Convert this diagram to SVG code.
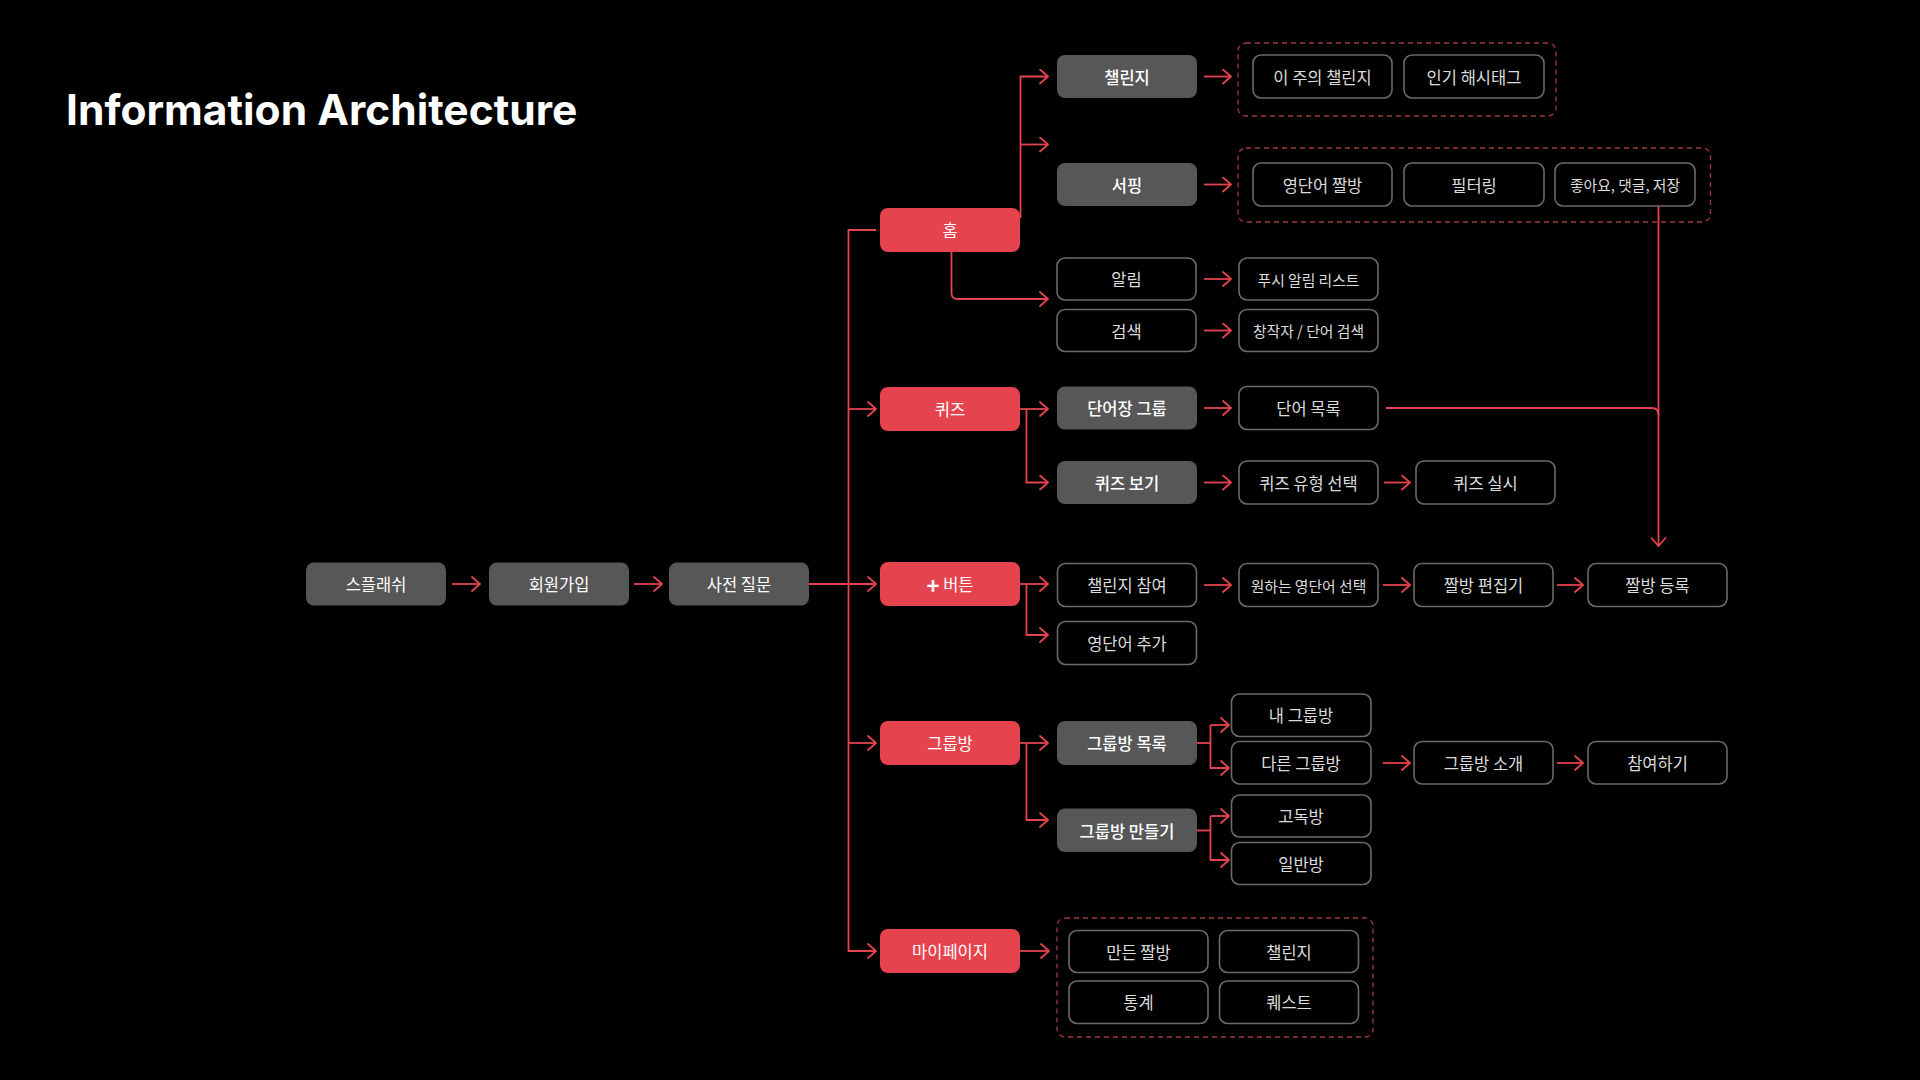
<svg xmlns="http://www.w3.org/2000/svg" width="1920" height="1080" viewBox="0 0 1920 1080">
<defs>
<marker id="ah" viewBox="0 0 10 16" refX="9" refY="8" markerWidth="10" markerHeight="16" markerUnits="userSpaceOnUse" orient="auto">
<path d="M1,1 L9,8 L1,15" fill="none" stroke="#E5434D" stroke-width="1.8" stroke-linecap="round" stroke-linejoin="round"/>
</marker>
</defs>
<style>
.bg{fill:#000}
.c{fill:none;stroke:#E5434D;stroke-width:1.8}
.a{marker-end:url(#ah)}
.red{fill:#E5434D}
.gray{fill:#575757}
.out{fill:#000;stroke:#6a6a6a;stroke-width:1.6}
.dash{fill:none;stroke:#A33A43;stroke-width:1.3;stroke-dasharray:5 4}
.t{font-family:"Noto Sans CJK KR","Noto Sans",sans-serif;font-size:16.5px;text-anchor:middle;dominant-baseline:central}
.w{fill:#ffffff;font-weight:500}
.r{fill:#ffffff;font-weight:400}
.g{fill:#dcdcdc;font-weight:400}
.s{font-size:14.8px}
.plus{font-size:22px;font-weight:700}
.title{font-family:Inter,"Liberation Sans",sans-serif;font-weight:700;font-size:42.5px;fill:#fff}
</style>
<rect class="bg" x="0" y="0" width="1920" height="1080"/>
<text class="title" x="66" y="125">Information Architecture</text>

<g id="connectors">
<path class="c a" d="M452,584 H480"/>
<path class="c a" d="M634,584 H662"/>
<path class="c a" d="M809,584 H876"/>
<path class="c a" d="M876,230 H848.5 V951 H876"/>
<path class="c a" d="M848.5,409 H876"/>
<path class="c a" d="M848.5,743 H876"/>
<path class="c a" d="M1020.5,218 V76.5 H1048"/>
<path class="c a" d="M1020.5,144.5 H1048"/>
<path class="c a" d="M951.5,252 V293 Q951.5,299 957.5,299 H1048"/>
<path class="c a" d="M1020,409 H1048"/>
<path class="c a" d="M1026.5,409 V482.5 H1048"/>
<path class="c a" d="M1020,584 H1048"/>
<path class="c a" d="M1026.5,584 V635 H1048"/>
<path class="c a" d="M1020,743 H1048"/>
<path class="c a" d="M1026.5,743 V820 H1048"/>
<path class="c a" d="M1020,951 H1049"/>
<path class="c a" d="M1204,76.5 H1231"/>
<path class="c a" d="M1204,184.5 H1231"/>
<path class="c a" d="M1204,279 H1231"/>
<path class="c a" d="M1204,330.5 H1231"/>
<path class="c a" d="M1204,408 H1231"/>
<path class="c a" d="M1204,482.5 H1231"/>
<path class="c a" d="M1204,585 H1231"/>
<path class="c a" d="M1384,482.5 H1410"/>
<path class="c a" d="M1383,585 H1410"/>
<path class="c a" d="M1557,585 H1583"/>
<path class="c a" d="M1658.5,206 V546"/>
<path class="c" d="M1386,408 H1652 Q1658.5,408 1658.5,415"/>
<path class="c" d="M1197,743 H1210.5"/>
<path class="c a" d="M1210.5,725 V768 H1229"/>
<path class="c a" d="M1210.5,725 H1229"/>
<path class="c" d="M1197,830.5 H1210.5"/>
<path class="c a" d="M1210.5,816 V860 H1229"/>
<path class="c a" d="M1210.5,816 H1229"/>
<path class="c a" d="M1383,763 H1410"/>
<path class="c a" d="M1557,763 H1583"/>
</g>

<g id="n-splash"><rect class="gray" x="306" y="562.5" width="140" height="43" rx="8"/><text class="t r" x="376" y="584">스플래쉬</text></g>
<g id="n-signup"><rect class="gray" x="489" y="562.5" width="140" height="43" rx="8"/><text class="t r" x="559" y="584">회원가입</text></g>
<g id="n-question"><rect class="gray" x="669" y="562.5" width="140" height="43" rx="8"/><text class="t r" x="739" y="584">사전 질문</text></g>

<g id="n-home"><rect class="red" x="880" y="208" width="140" height="44" rx="8"/><text class="t r" x="950" y="230">홈</text></g>
<g id="n-quiz"><rect class="red" x="880" y="387" width="140" height="44" rx="8"/><text class="t r" x="950" y="409">퀴즈</text></g>
<g id="n-plus"><rect class="red" x="880" y="562" width="140" height="44" rx="8"/><text class="t r" x="950" y="584"><tspan class="plus">+</tspan> 버튼</text></g>
<g id="n-group"><rect class="red" x="880" y="721" width="140" height="44" rx="8"/><text class="t r" x="950" y="743">그룹방</text></g>
<g id="n-mypage"><rect class="red" x="880" y="929" width="140" height="44" rx="8"/><text class="t r" x="950" y="951">마이페이지</text></g>

<g id="n-challenge"><rect class="gray" x="1057" y="55" width="140" height="43" rx="8"/><text class="t w" x="1127" y="76.5">챌린지</text></g>
<g id="n-surfing"><rect class="gray" x="1057" y="163" width="140" height="43" rx="8"/><text class="t w" x="1127" y="184.5">서핑</text></g>
<g id="n-alarm"><rect class="out" x="1057" y="258" width="139" height="42" rx="8"/><text class="t g" x="1126.5" y="279">알림</text></g>
<g id="n-search"><rect class="out" x="1057" y="309.5" width="139" height="42" rx="8"/><text class="t g" x="1126.5" y="330.5">검색</text></g>
<g id="n-wordbook"><rect class="gray" x="1057" y="386.5" width="140" height="43" rx="8"/><text class="t w" x="1127" y="408">단어장 그룹</text></g>
<g id="n-quizview"><rect class="gray" x="1057" y="461" width="140" height="43" rx="8"/><text class="t w" x="1127" y="482.5">퀴즈 보기</text></g>
<g id="n-join"><rect class="out" x="1057.5" y="563.5" width="139" height="43" rx="8"/><text class="t g" x="1127" y="585">챌린지 참여</text></g>
<g id="n-addword"><rect class="out" x="1057.5" y="621.5" width="139" height="43" rx="8"/><text class="t g" x="1127" y="643">영단어 추가</text></g>
<g id="n-grouplist"><rect class="gray" x="1057" y="721" width="140" height="44" rx="8"/><text class="t w" x="1127" y="743">그룹방 목록</text></g>
<g id="n-groupmake"><rect class="gray" x="1057" y="808.5" width="140" height="43.5" rx="8"/><text class="t w" x="1127" y="830.5">그룹방 만들기</text></g>

<g id="n-challenge-set"><rect class="dash" x="1238" y="43" width="318" height="73" rx="8"/>
<rect class="out" x="1253" y="55" width="139" height="43" rx="8"/><text class="t g" x="1322.5" y="76.5">이 주의 챌린지</text>
<rect class="out" x="1404" y="55" width="140" height="43" rx="8"/><text class="t g" x="1474" y="76.5">인기 해시태그</text></g>
<g id="n-surfing-set"><rect class="dash" x="1238" y="148" width="472.5" height="74" rx="8"/>
<rect class="out" x="1253" y="163" width="139" height="43" rx="8"/><text class="t g" x="1322.5" y="184.5">영단어 짤방</text>
<rect class="out" x="1404" y="163" width="140" height="43" rx="8"/><text class="t g" x="1474" y="184.5">필터링</text>
<rect class="out" x="1555" y="163" width="140" height="43" rx="8"/><text class="t g s" x="1625" y="184.5">좋아요, 댓글, 저장</text></g>

<g id="n-pushlist"><rect class="out" x="1239" y="258" width="139" height="42" rx="8"/><text class="t g s" x="1308.5" y="279">푸시 알림 리스트</text></g>
<g id="n-creator"><rect class="out" x="1239" y="309.5" width="139" height="42" rx="8"/><text class="t g s" x="1308.5" y="330.5">창작자 / 단어 검색</text></g>
<g id="n-wordlist"><rect class="out" x="1239" y="386.5" width="139" height="43" rx="8"/><text class="t g" x="1308.5" y="408">단어 목록</text></g>
<g id="n-quiztype"><rect class="out" x="1239" y="461" width="139" height="43" rx="8"/><text class="t g" x="1308.5" y="482.5">퀴즈 유형 선택</text></g>
<g id="n-quizrun"><rect class="out" x="1416" y="461" width="139" height="43" rx="8"/><text class="t g" x="1485.5" y="482.5">퀴즈 실시</text></g>
<g id="n-wordpick"><rect class="out" x="1239" y="563.5" width="139" height="43" rx="8"/><text class="t g s" x="1308.5" y="585">원하는 영단어 선택</text></g>
<g id="n-editor"><rect class="out" x="1414" y="563.5" width="139" height="43" rx="8"/><text class="t g" x="1483.5" y="585">짤방 편집기</text></g>
<g id="n-register"><rect class="out" x="1588" y="563.5" width="139" height="43" rx="8"/><text class="t g" x="1657.5" y="585">짤방 등록</text></g>

<g id="n-mygroup"><rect class="out" x="1231.5" y="694" width="139.5" height="42.5" rx="8"/><text class="t g" x="1301" y="715">내 그룹방</text></g>
<g id="n-othergroup"><rect class="out" x="1231.5" y="741.5" width="139.5" height="42.5" rx="8"/><text class="t g" x="1301" y="763">다른 그룹방</text></g>
<g id="n-solo"><rect class="out" x="1231.5" y="795" width="139.5" height="42" rx="8"/><text class="t g" x="1301" y="816">고독방</text></g>
<g id="n-normal"><rect class="out" x="1231.5" y="842.5" width="139.5" height="42" rx="8"/><text class="t g" x="1301" y="863.5">일반방</text></g>
<g id="n-intro"><rect class="out" x="1414" y="741.5" width="139" height="42.5" rx="8"/><text class="t g" x="1483.5" y="763">그룹방 소개</text></g>
<g id="n-enter"><rect class="out" x="1588" y="741.5" width="139" height="42.5" rx="8"/><text class="t g" x="1657.5" y="763">참여하기</text></g>

<g id="n-mypage-set"><rect class="dash" x="1057" y="918" width="316" height="119" rx="8"/>
<rect class="out" x="1069" y="930.5" width="139" height="42" rx="8"/><text class="t g" x="1138.5" y="951.5">만든 짤방</text>
<rect class="out" x="1219.5" y="930.5" width="139" height="42" rx="8"/><text class="t g" x="1289" y="951.5">챌린지</text>
<rect class="out" x="1069" y="981" width="139" height="42.5" rx="8"/><text class="t g" x="1138.5" y="1002">통계</text>
<rect class="out" x="1219.5" y="981" width="139" height="42.5" rx="8"/><text class="t g" x="1289" y="1002">퀘스트</text></g>
</svg>
